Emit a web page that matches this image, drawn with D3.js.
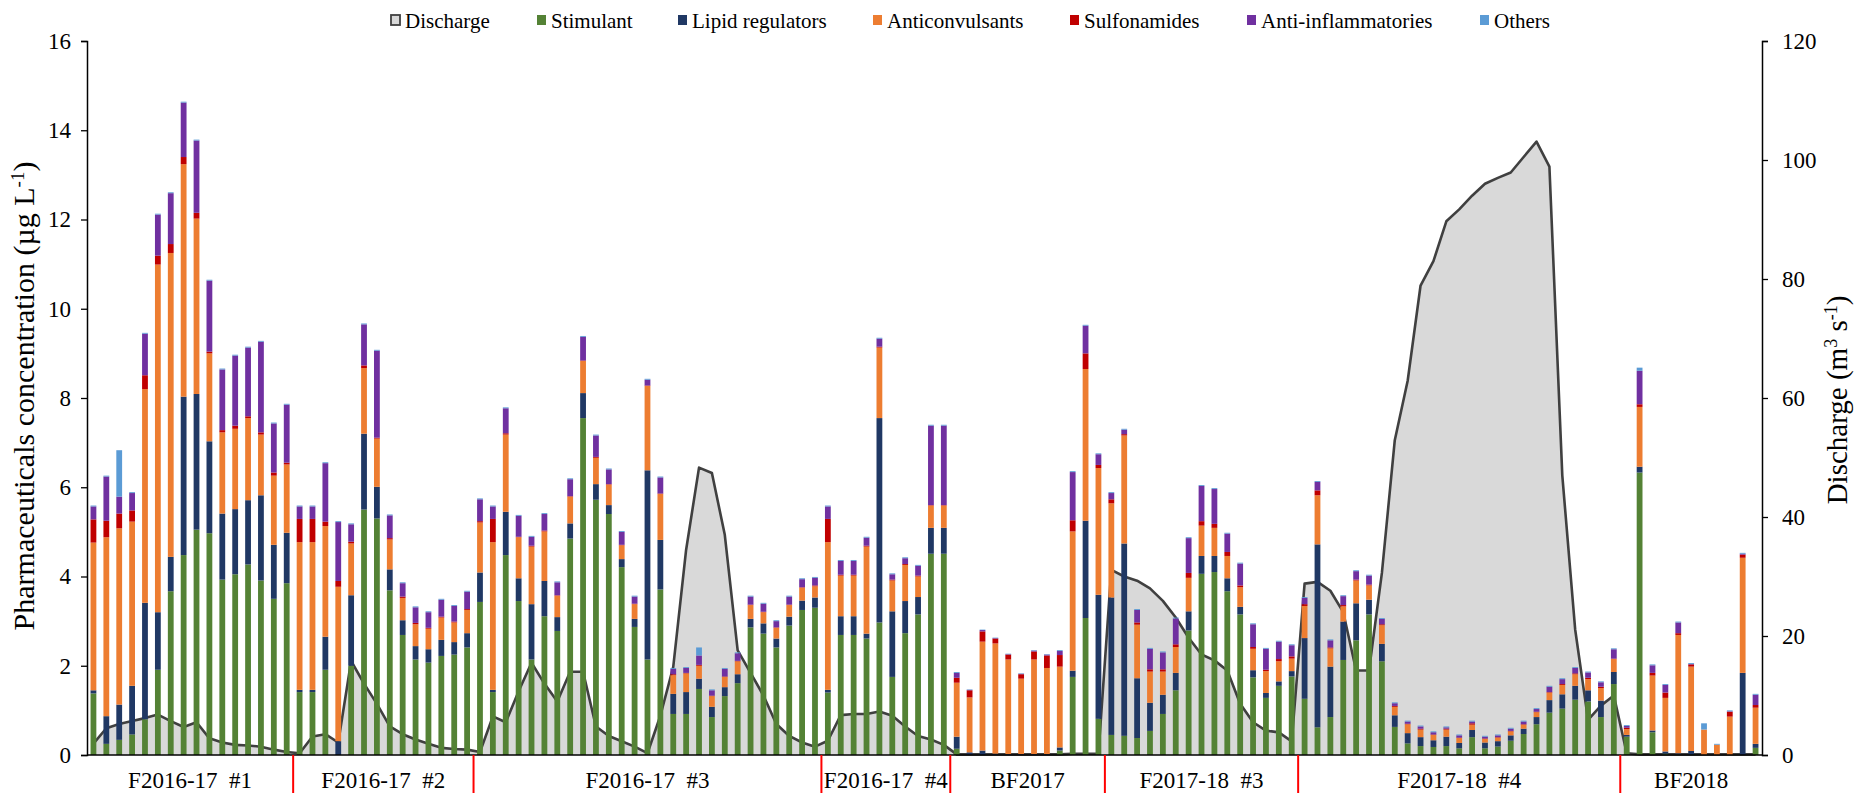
<!DOCTYPE html>
<html><head><meta charset="utf-8">
<script src="https://cdn.jsdelivr.net/npm/d3@7"></script>
<style>
html,body{margin:0;padding:0;background:#fff;}
svg text{font-family:"Liberation Serif","Times New Roman",serif;fill:#000;}
</style></head>
<body><svg id="c" width="1854" height="793"></svg>
<script>
// ---- DATA ----
const groups = ["F2016-17 #1","F2016-17 #2","F2016-17 #3","F2016-17 #4","BF2017","F2017-18 #3","F2017-18 #4","BF2018"];
const groupSizes = [16,14,27,10,12,15,25,11];
const seriesNames = ["Stimulant","Lipid regulators","Anticonvulsants","Sulfonamides","Anti-inflammatories","Others"];
const seriesColors = ["#548235","#203864","#ED7D31","#C00000","#7030A0","#5B9BD5"];

const stimulant = [1.38,.25,.34,.46,.80,1.91,3.67,4.48,5.05,4.97,3.93,4.05,4.27,3.91,3.50,3.85,
 1.41,1.41,1.91,0,2.0,5.5,5.3,3.69,2.69,2.14,2.07,2.22,2.25,2.41,
 3.43,1.41,4.48,3.45,2.14,3.11,2.78,4.85,7.55,5.72,5.40,4.21,2.87,2.14,3.71,.92,.92,1.48,.85,1.32,1.61,2.86,2.72,2.41,2.90,3.25,3.30,
 1.40,2.69,2.69,2.61,2.97,1.75,2.73,3.15,4.51,4.51,
 .14,0,0,0,0,0,0,0,.10,1.75,3.07,.81,
 .45,.43,.38,.54,.92,1.45,2.79,4.06,4.10,3.67,3.15,1.74,1.28,1.55,1.76,
 1.26,.62,.85,2.13,2.57,3.15,2.10,.63,.26,.20,.18,.20,.15,.40,.15,.19,.32,.47,.69,.95,1.04,1.24,1.20,.85,1.59,
 .41,6.33,.51,.03,.01,.01,0,0,0,0,.16];
const lipid = [.07,.62,.79,1.09,2.61,1.29,.77,3.55,3.04,2.06,1.48,1.46,1.44,1.91,1.21,1.13,
 .05,.05,.74,.31,1.58,1.70,.71,.47,.33,.30,.30,.36,.28,.32,
 .66,.05,.97,.51,1.24,.79,.31,.34,.56,.35,.20,.18,.18,4.24,1.11,.45,.49,.23,.23,.20,.20,.19,.23,.20,.20,.21,.23,
 .06,.42,.42,.11,4.58,1.47,.72,.39,.58,.58,
 .27,.06,.10,.03,.02,.02,.02,.02,.07,.14,2.18,2.78,
 3.08,4.31,1.34,.63,.43,.39,.43,.40,.36,.29,.17,.16,.11,.10,.12,
 1.36,4.10,1.13,.86,.83,.33,.39,.26,.23,.20,.15,.21,.12,.16,.13,.12,.12,.12,.16,.28,.32,.31,.25,.37,.27,
 .04,.13,.04,.05,.03,.08,0,0,0,1.84,.09];
const anticonvulsants = [3.31,4.01,3.95,3.68,4.79,7.79,6.81,5.21,3.93,1.97,1.82,1.80,1.84,1.36,1.55,1.53,
 3.31,3.31,2.48,3.46,1.16,1.47,1.08,.67,.50,.49,.46,.50,.44,.52,
 1.12,3.31,1.73,.92,1.29,1.11,.48,.60,.72,.59,.46,.31,.33,1.89,1.03,.42,.42,.29,.24,.23,.29,.31,.25,.24,.26,.29,.25,
 3.31,.91,.91,1.95,1.58,.69,.81,.46,.50,.50,
 1.21,1.23,2.44,2.47,2.12,1.69,2.12,1.93,1.81,3.12,3.40,2.84,
 2.11,2.42,1.20,.70,.52,.58,.75,.68,.63,.50,.44,.48,.49,.45,.28,
 .72,1.10,.41,.34,.51,.32,.42,.19,.20,.17,.12,.16,.11,.12,.08,.08,.09,.09,.11,.17,.21,.26,.25,.28,.29,
 .13,1.34,1.23,1.20,2.65,1.89,.57,.23,.86,2.58,.81];
const sulfonamides = [.52,.37,.33,.25,.31,.20,.20,.16,.13,.04,.05,.07,.04,.05,.07,.04,
 .52,.52,.10,.13,.04,.06,.02,.03,.03,.03,.02,.02,.02,.02,
 .03,.52,.03,.01,.02,.02,.01,.01,.01,.02,.01,.01,.01,.01,.01,.02,.01,.02,.01,.01,.01,.01,.01,.01,.01,.01,.02,
 .52,.02,.02,.02,.02,.02,.02,.02,.01,.01,
 .11,.16,.23,.11,.11,.10,.18,.28,.26,.25,.35,.07,
 .09,.03,.05,.05,.05,.06,.11,.10,.09,.09,.04,.04,.03,.05,.05,
 .04,.11,.02,.03,.02,.02,.02,.02,.01,.02,.01,.02,.01,.03,.01,.01,.01,.01,.01,.01,.02,.02,.03,.03,.01,
 .03,.06,.06,.12,.04,.05,0,0,.11,.07,.06];
const antiInflammatories = [.29,.99,.38,.39,.93,.92,1.14,1.22,1.62,1.59,1.36,1.57,1.54,2.03,1.10,1.30,
 .28,.28,1.31,1.32,.39,.92,1.95,.51,.30,.35,.35,.38,.35,.39,
 .49,.28,.56,.47,.20,.37,.29,.38,.53,.48,.33,.29,.16,.13,.36,.12,.11,.21,.12,.17,.17,.18,.18,.14,.18,.18,.17,
 .28,.31,.31,.18,.18,.12,.13,.22,1.78,1.78,
 .11,.01,.03,.01,.01,.01,.02,.02,.09,1.08,.62,.24,
 .14,.10,.28,.46,.38,.58,.78,.79,.78,.41,.49,.51,.47,.39,.25,
 .14,.19,.16,.20,.19,.20,.12,.06,.05,.05,.05,.03,.05,.04,.04,.04,.05,.06,.06,.12,.11,.12,.12,.10,.21,
 .04,.75,.17,.17,.24,.01,0,0,.01,.02,.23];
const others = [.02,.02,1.04,.02,.02,.02,.02,.02,.02,.02,.02,.02,.02,.02,.02,.02,
 .02,.02,.02,.02,.02,.02,.02,.02,.02,.02,.02,.02,.02,.02,
 .02,.02,.02,.02,.02,.02,.02,.02,.02,.02,.02,.02,.02,.02,.02,.02,.02,.18,.02,.02,.02,.02,.02,.02,.02,.02,.02,
 .02,.02,.02,.02,.02,.02,.02,.02,.02,.02,
 .02,.01,.01,.01,.01,.01,.01,.01,.02,.02,.02,.02,
 .02,.02,.02,.02,.02,.02,.02,.02,.02,.02,.02,.02,.02,.02,.02,
 .02,.02,.02,.02,.02,.02,.02,.02,.02,.02,.02,.02,.02,.02,.02,.02,.02,.02,.02,.02,.02,.02,.02,.02,.02,
 .02,.07,.02,.02,.02,.02,.14,.02,.02,.02,.02];
const discharge = [1.9,4.5,5.2,5.7,6.2,6.8,5.7,4.7,5.5,2.8,2.1,1.7,1.6,1.4,.9,.5,
 .3,3.1,3.5,2.1,15.8,12,8.6,4.8,3.5,2.6,1.9,1.2,1.0,.9,
 .5,6.5,5.5,10.7,15.5,12,9,14,14,4.8,3.2,2.3,1.4,.3,6.6,14.8,34.5,48.3,47.4,37,17.6,13.8,10,5.2,3.2,2.1,1.4,
 2.4,6.7,6.9,6.9,7.3,6.6,4.8,3.2,2.6,1.7,
 .1,.1,.1,.1,.1,.1,.1,.1,.1,.2,.2,.2,
 31.1,30,29.3,28,25.9,23.1,19.7,16.9,15.9,14.2,8.6,5.5,4.1,3.8,2.3,
 28.8,29.1,27.6,24,14.2,14.2,30.6,52.9,62.9,78.9,83,89.7,91.7,94,96,97,97.9,100.5,103.1,98.9,47,21.1,5.9,8.3,10,
 .3,.1,.1,.1,.1,.1,.1,.1,.1,.1,.1];
const leftTicks = [0,2,4,6,8,10,12,14,16];
const rightTicks = [0,20,40,60,80,100,120];

// ---- CHART ----
const svg = d3.select("#c");
const L = 87, R = 1762, T = 41, B = 755;
const n = stimulant.length;
const x = d3.scaleBand().domain(d3.range(n)).range([L, R]).paddingInner(0.55).paddingOuter(0.275);
const y = d3.scaleLinear().domain([0, 16]).range([B, T]);
const y2 = d3.scaleLinear().domain([0, 120]).range([B, T]);
const bw = x.bandwidth();
const cx = i => x(i) + bw / 2;

// discharge area (behind columns)
const area = d3.area().x((d, i) => cx(i)).y0(y2(0)).y1(d => y2(d));
const line = d3.line().x((d, i) => cx(i)).y(d => y2(d));
svg.append("path").datum(discharge).attr("d", area).attr("fill", "#D9D9D9");
svg.append("path").datum(discharge).attr("d", line).attr("fill", "none")
  .attr("stroke", "#404040").attr("stroke-width", 2.6).attr("stroke-linejoin", "round");

// stacked columns
const rows = d3.range(n).map(i => ({i, s0: stimulant[i], s1: lipid[i], s2: anticonvulsants[i], s3: sulfonamides[i], s4: antiInflammatories[i], s5: others[i]}));
const stack = d3.stack().keys(["s0","s1","s2","s3","s4","s5"])(rows);
stack.forEach((layer, k) => {
  svg.append("g").attr("fill", seriesColors[k]).selectAll("rect").data(layer).join("rect")
    .attr("x", d => x(d.data.i)).attr("width", bw)
    .attr("y", d => y(d[1])).attr("height", d => Math.max(0, y(d[0]) - y(d[1])));
});

// axes
const fs = 23;
const ga = svg.append("g").attr("transform", `translate(${L},0)`)
  .call(d3.axisLeft(y).tickValues(leftTicks).tickSize(6).tickPadding(10).tickFormat(d3.format("d")));
const gb = svg.append("g").attr("transform", `translate(${R},0)`)
  .call(d3.axisRight(y2).tickValues(rightTicks).tickSize(6).tickPadding(14).tickFormat(d3.format("d")));
[ga, gb].forEach(g => {
  g.select(".domain").attr("stroke", "#000").attr("stroke-width", 1.5);
  g.selectAll(".tick line").attr("stroke", "#000").attr("stroke-width", 1.3);
  g.selectAll(".tick text").style("font-family", '"Liberation Serif","Times New Roman",serif').style("font-size", fs + "px").attr("fill", "#000");
});
svg.append("line").attr("x1", L).attr("x2", R).attr("y1", B).attr("y2", B).attr("stroke", "#000").attr("stroke-width", 1.5);

// group separators and labels
let cum = 0;
groups.forEach((g, k) => {
  const start = cum; cum += groupSizes[k];
  const x0 = L + start * x.step(), x1 = L + cum * x.step();
  if (k > 0) svg.append("line").attr("x1", x0).attr("x2", x0).attr("y1", B).attr("y2", 793).attr("stroke", "#FF0000").attr("stroke-width", 2);
  svg.append("text").attr("x", (x0 + x1) / 2).attr("y", 788).attr("text-anchor", "middle")
    .style("font-size", "23px").attr("xml:space", "preserve").text(g.replace(" ", "  "));
});

// axis titles
const lt = svg.append("text").attr("transform", `translate(34,396) rotate(-90)`).attr("text-anchor", "middle").style("font-size", "30px");
lt.append("tspan").text("Pharmaceuticals concentration (µg L");
lt.append("tspan").attr("baseline-shift", "super").style("font-size", "19px").text("-1");
lt.append("tspan").text(")");
const rt = svg.append("text").attr("transform", `translate(1847,400) rotate(-90)`).attr("text-anchor", "middle").style("font-size", "29px");
rt.append("tspan").text("Discharge (m");
rt.append("tspan").attr("baseline-shift", "super").style("font-size", "18px").text("3");
rt.append("tspan").text(" s");
rt.append("tspan").attr("baseline-shift", "super").style("font-size", "18px").text("-1");
rt.append("tspan").text(")");

// legend
const legNames = ["Discharge"].concat(seriesNames);
const legColors = ["#D9D9D9"].concat(seriesColors);
const legX = [391, 537, 678, 873, 1070, 1247, 1480];
legNames.forEach((nm, k) => {
  svg.append("rect").attr("x", legX[k]).attr("y", 15).attr("width", 9).attr("height", 10)
    .attr("fill", legColors[k]).attr("stroke", k === 0 ? "#404040" : "none").attr("stroke-width", k === 0 ? 1.8 : 0);
  svg.append("text").attr("x", legX[k] + 14).attr("y", 28).style("font-size", "21px").text(nm);
});
</script></body></html>
